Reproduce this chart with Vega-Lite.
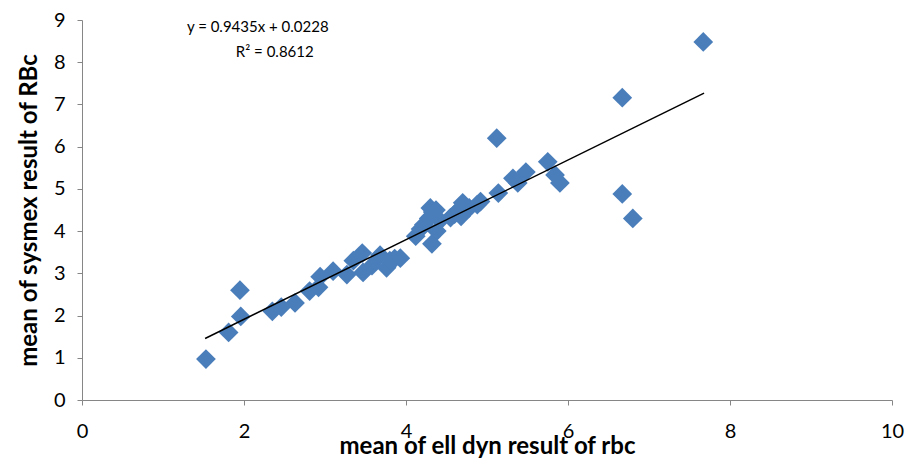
{
  "$schema": "https://vega.github.io/schema/vega-lite/v6.json",
  "autosize": "none",
  "width": 810,
  "height": 380,
  "padding": {"left": 82, "top": 20, "right": 18, "bottom": 65},
  "background": "white",
  "config": {
    "view": {"stroke": null},
    "font": "Lato",
    "axis": {
      "grid": false,
      "domainColor": "#868686",
      "tickColor": "#868686",
      "labelFont": "Lato",
      "labelFontSize": 20,
      "labelColor": "#000000",
      "labelFlush": false,
      "titleFont": "Lato",
      "titleFontSize": 24,
      "titleFontWeight": "bold",
      "titleColor": "#000000",
      "tickSize": 5
    }
  },
  "datasets": {
    "points": [
      {"ell": 1.53, "sys": 0.97}, {"ell": 1.81, "sys": 1.6}, {"ell": 1.95, "sys": 2.6}, {"ell": 1.96, "sys": 1.98},
      {"ell": 2.35, "sys": 2.1}, {"ell": 2.46, "sys": 2.2}, {"ell": 2.63, "sys": 2.3}, {"ell": 2.81, "sys": 2.58},
      {"ell": 2.92, "sys": 2.67}, {"ell": 2.94, "sys": 2.92}, {"ell": 3.1, "sys": 3.05}, {"ell": 3.27, "sys": 2.97},
      {"ell": 3.35, "sys": 3.3}, {"ell": 3.46, "sys": 3.48}, {"ell": 3.47, "sys": 3.02}, {"ell": 3.58, "sys": 3.18},
      {"ell": 3.68, "sys": 3.43}, {"ell": 3.76, "sys": 3.13}, {"ell": 3.8, "sys": 3.3}, {"ell": 3.86, "sys": 3.35},
      {"ell": 3.93, "sys": 3.36}, {"ell": 4.12, "sys": 3.88}, {"ell": 4.18, "sys": 4.05}, {"ell": 4.22, "sys": 4.15},
      {"ell": 4.28, "sys": 4.3}, {"ell": 4.3, "sys": 4.55}, {"ell": 4.37, "sys": 4.5}, {"ell": 4.32, "sys": 3.7},
      {"ell": 4.38, "sys": 4.0}, {"ell": 4.42, "sys": 4.25}, {"ell": 4.33, "sys": 4.45}, {"ell": 4.55, "sys": 4.32},
      {"ell": 4.6, "sys": 4.4}, {"ell": 4.65, "sys": 4.5}, {"ell": 4.7, "sys": 4.67}, {"ell": 4.68, "sys": 4.35},
      {"ell": 4.78, "sys": 4.55}, {"ell": 4.88, "sys": 4.63}, {"ell": 4.92, "sys": 4.7}, {"ell": 5.12, "sys": 6.2},
      {"ell": 5.14, "sys": 4.9}, {"ell": 5.32, "sys": 5.25}, {"ell": 5.38, "sys": 5.14}, {"ell": 5.48, "sys": 5.4},
      {"ell": 5.75, "sys": 5.64}, {"ell": 5.84, "sys": 5.33}, {"ell": 5.9, "sys": 5.14}, {"ell": 6.67, "sys": 4.88},
      {"ell": 6.8, "sys": 4.3}, {"ell": 6.67, "sys": 7.16}, {"ell": 7.67, "sys": 8.48}
    ],
    "trend": [
      {"ell": 1.52, "sys": 1.457}, {"ell": 7.68, "sys": 7.269}
    ],
    "labels": [
      {"ell": 2.17, "sys": 8.84, "text": "y = 0.9435x + 0.0228"},
      {"ell": 2.38, "sys": 8.25, "text": "R² = 0.8612"}
    ]
  },
  "layer": [
    {
      "data": {"name": "points"},
      "mark": {"type": "point", "shape": "diamond", "filled": true, "size": 390, "color": "#4A7EBB", "opacity": 1},
      "encoding": {
        "x": {"field": "ell", "type": "quantitative", "scale": {"domain": [0, 10], "nice": false},
          "axis": {"values": [0, 2, 4, 6, 8, 10], "format": "d", "title": "mean of ell dyn result of rbc", "titlePadding": -7, "labelPadding": 16}},
        "y": {"field": "sys", "type": "quantitative", "scale": {"domain": [0, 9], "nice": false},
          "axis": {"values": [0, 1, 2, 3, 4, 5, 6, 7, 8, 9], "format": "d", "title": "mean of sysmex result of RBc", "labelPadding": 12, "titlePadding": 12}}
      }
    },
    {
      "data": {"name": "trend"},
      "mark": {"type": "line", "color": "#000000", "strokeWidth": 1.5},
      "encoding": {
        "x": {"field": "ell", "type": "quantitative"},
        "y": {"field": "sys", "type": "quantitative"}
      }
    },
    {
      "data": {"name": "labels"},
      "mark": {"type": "text", "font": "Lato", "fontSize": 15, "color": "#000000", "align": "center", "baseline": "middle"},
      "encoding": {
        "x": {"field": "ell", "type": "quantitative"},
        "y": {"field": "sys", "type": "quantitative"},
        "text": {"field": "text"}
      }
    }
  ]
}
